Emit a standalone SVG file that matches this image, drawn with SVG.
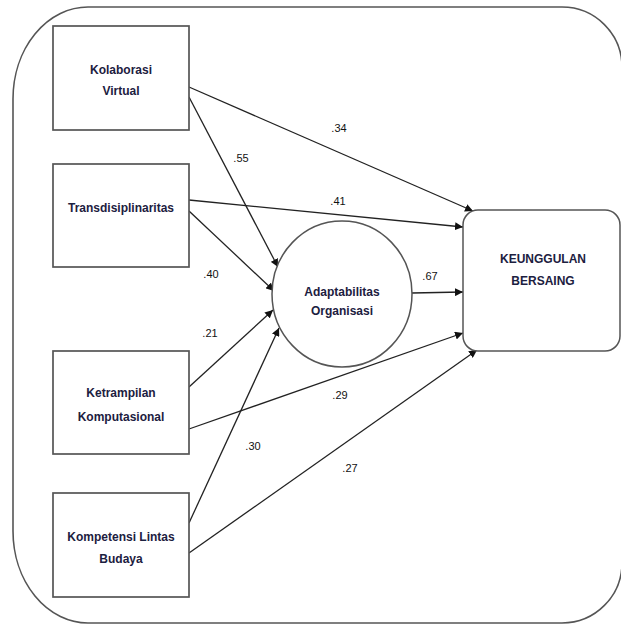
<svg xmlns="http://www.w3.org/2000/svg" width="621" height="626" viewBox="0 0 621 626">
<defs>
<marker id="arr" viewBox="0 0 10 10" refX="10" refY="5" markerWidth="8" markerHeight="8" markerUnits="userSpaceOnUse" orient="auto">
<path d="M0,0 L10,5 L0,10 Z" fill="#111"/>
</marker>
<style>
.box{fill:#fff;stroke:#555;stroke-width:1.7}
.lbl{font-family:"Liberation Sans",Arial,sans-serif;font-size:12px;font-weight:bold;fill:#1c2040;text-anchor:middle}
.num{font-family:"Liberation Sans",Arial,sans-serif;font-size:11px;fill:#111;text-anchor:middle}
.edge{stroke:#222;stroke-width:1.3;fill:none;marker-end:url(#arr)}
</style>
</defs>
<rect width="621" height="626" fill="#fff"/>
<g id="frame">
<path d="M 88 7 H 562 A 60 60 0 0 1 622 67 V 563 A 60 60 0 0 1 562 623 H 88 A 75 92 0 0 1 13 531 V 99 A 75 92 0 0 1 88 7 Z" fill="none" stroke="#555" stroke-width="1.6"/>
</g>
<g id="connectors">
<line class="edge" x1="189" y1="87" x2="473" y2="211"/>
<line class="edge" x1="189" y1="97" x2="278" y2="267"/>
<line class="edge" x1="189" y1="200" x2="463" y2="227"/>
<line class="edge" x1="189" y1="211" x2="274" y2="291"/>
<line class="edge" x1="412" y1="293" x2="463" y2="292"/>
<line class="edge" x1="189" y1="387" x2="273" y2="310"/>
<line class="edge" x1="189" y1="429" x2="463" y2="333"/>
<line class="edge" x1="189" y1="523" x2="279" y2="328"/>
<line class="edge" x1="189" y1="553" x2="477" y2="350"/>
<text class="num" x="339" y="132">.34</text>
<text class="num" x="241" y="162">.55</text>
<text class="num" x="338" y="205">.41</text>
<text class="num" x="211" y="278">.40</text>
<text class="num" x="430" y="280">.67</text>
<text class="num" x="210" y="337">.21</text>
<text class="num" x="253" y="450">.30</text>
<text class="num" x="340" y="399">.29</text>
<text class="num" x="350" y="472">.27</text>
</g>
<g id="kolaborasi">
<rect class="box" x="53" y="26" width="136" height="104"/>
<text class="lbl" x="121" y="74">Kolaborasi</text>
<text class="lbl" x="121" y="95">Virtual</text>
</g>
<g id="transdisiplinaritas">
<rect class="box" x="53" y="164" width="136" height="103"/>
<text class="lbl" x="121" y="212">Transdisiplinaritas</text>
</g>
<g id="ketrampilan">
<rect class="box" x="53" y="351" width="136" height="103"/>
<text class="lbl" x="121" y="397">Ketrampilan</text>
<text class="lbl" x="121" y="421">Komputasional</text>
</g>
<g id="kompetensi">
<rect class="box" x="53" y="493" width="136" height="104"/>
<text class="lbl" x="121" y="541">Kompetensi Lintas</text>
<text class="lbl" x="121" y="563">Budaya</text>
</g>
<g id="adaptabilitas">
<ellipse cx="342" cy="294" rx="70" ry="73" fill="#fff" stroke="#555" stroke-width="1.5"/>
<text class="lbl" x="342" y="296">Adaptabilitas</text>
<text class="lbl" x="342" y="315">Organisasi</text>
</g>
<g id="keunggulan">
<rect x="463" y="210" width="157" height="141" rx="15" fill="#fff" stroke="#555" stroke-width="1.5"/>
<text class="lbl" x="543" y="263">KEUNGGULAN</text>
<text class="lbl" x="543" y="285">BERSAING</text>
</g>
</svg>
